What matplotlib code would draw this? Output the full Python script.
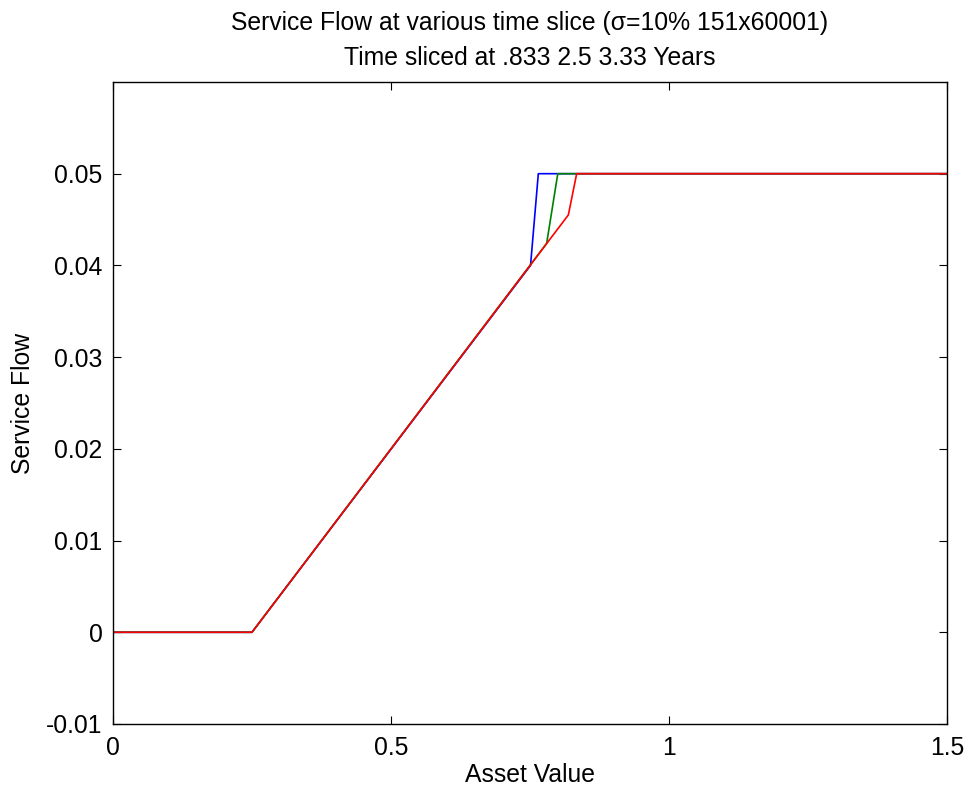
import matplotlib.pyplot as plt

plt.rcParams['font.family'] = ['Liberation Sans', 'DejaVu Sans']

# Service flow curves, one per time slice (knots)
x_blue = [0, 0.25, 0.751, 0.765, 1.5]
y_blue = [0, 0, 0.040, 0.050, 0.050]

x_green = [0, 0.25, 0.78, 0.80, 1.5]
y_green = [0, 0, 0.0424, 0.050, 0.050]

x_red = [0, 0.25, 0.819, 0.834, 1.5]
y_red = [0, 0, 0.0455, 0.050, 0.050]

x_ticks = [0, 0.5, 1, 1.5]
x_tick_labels = ['0', '0.5', '1', '1.5']
y_ticks = [-0.01, 0, 0.01, 0.02, 0.03, 0.04, 0.05]
y_tick_labels = ['-0.01', '0', '0.01', '0.02', '0.03', '0.04', '0.05']

fs = 17.8

fig = plt.figure(figsize=(9.65, 7.89), dpi=100)
ax = fig.add_axes([0.1171, 0.0824, 0.8642, 0.8137])

ax.plot(x_blue, y_blue, color=(0, 0, 1), lw=1.2)
ax.plot(x_green, y_green, color=(0, 0.5, 0), lw=1.2)
ax.plot(x_red, y_red, color=(1, 0, 0), lw=1.2)

ax.set_xlim(0, 1.5)
ax.set_ylim(-0.01, 0.06)
ax.set_xticks(x_ticks)
ax.set_xticklabels(x_tick_labels)
ax.set_yticks(y_ticks)
ax.set_yticklabels(y_tick_labels)
ax.tick_params(direction='in', top=True, right=True, length=5.5, labelsize=fs)
ax.tick_params(axis='y', pad=7.5)
ax.tick_params(axis='x', pad=8.5)
for s in ax.spines.values():
    s.set_linewidth(1.0)

ax.set_xlabel('Asset Value', fontsize=fs, labelpad=2)
ax.set_ylabel('Service Flow', fontsize=fs, labelpad=8)
ax.set_title('Service Flow at various time slice (σ=10% 151x60001)\nTime sliced at .833 2.5 3.33 Years',
             fontsize=fs, pad=12, linespacing=1.6)

fig.savefig('out.png', dpi=100)
